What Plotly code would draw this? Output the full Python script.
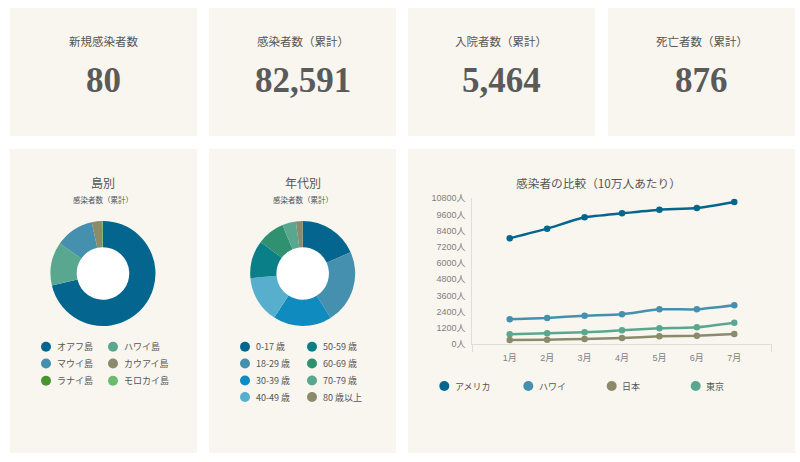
import plotly.graph_objects as go

W, H = 800, 462

stat_titles = ["新規感染者数", "感染者数（累計）", "入院者数（累計）", "死亡者数（累計）"]
stat_values = ["80", "82,591", "5,464", "876"]

island_names = ["オアフ島", "ハワイ島", "マウイ島", "カウアイ島", "ラナイ島", "モロカイ島"]
island_cases = [58900, 11000, 9830, 2560, 200, 100]
island_colors = ["#04668f", "#5aa78f", "#4490ae", "#8b8a6b", "#4b9432", "#6abb6e"]

age_names = ["0-17 歳", "18-29 歳", "30-39 歳", "40-49 歳", "50-59 歳", "60-69 歳", "70-79 歳", "80 歳以上"]
age_cases = [18.4, 22.8, 18.1, 14.5, 11.7, 8.5, 4.2, 2.1]
age_colors = ["#04668f", "#4490ae", "#0f8bbf", "#58aecd", "#0a7f88", "#2f9170", "#5aa78f", "#8b8a6b"]

months = ["1月", "2月", "3月", "4月", "5月", "6月", "7月"]
usa = [7830, 8550, 9390, 9690, 9960, 10080, 10530]
hawaii = [1830, 1930, 2100, 2200, 2570, 2570, 2870]
japan = [300, 320, 370, 445, 570, 620, 740]
tokyo = [720, 790, 865, 1010, 1160, 1240, 1580]
y_ticks = [0, 1200, 2400, 3600, 4800, 6000, 7200, 8400, 9600, 10800]

CARD = "#f9f6f0"
TEXT = "#555555"
AXIS = "#e0ddd4"
TICK_TEXT = "#808080"
JP = "'Noto Sans CJK JP', 'Noto Sans', sans-serif"
TICK_FONT = "'Liberation Sans', 'Noto Sans CJK JP', sans-serif"
NUM = "'Liberation Serif', serif"


def px(x):
    return x / W


def py(y):
    return 1 - y / H


fig = go.Figure()
shapes = []
notes = []


def card(x0, y0, x1, y1):
    shapes.append(dict(type="rect", xref="paper", yref="paper", x0=px(x0), x1=px(x1),
                       y0=py(y1), y1=py(y0), fillcolor=CARD, line_width=0, layer="below"))


def text(x, y, s, size, color=TEXT, anchor="center", family=JP):
    notes.append(dict(x=px(x), y=py(y), xref="paper", yref="paper", text=s, showarrow=False,
                      xanchor=anchor, yanchor="middle", font=dict(size=size, color=color, family=family)))


def legend_item(x, y, s, color):
    r = 5
    shapes.append(dict(type="circle", xref="paper", yref="paper", x0=px(x - r), x1=px(x + r),
                       y0=py(y + r), y1=py(y - r), fillcolor=color, line_width=0))
    text(x + 8.5, y, s, 9, anchor="left")


# top row
stat_x = [(10, 197), (209, 396), (408, 595), (608, 795)]
for (x0, x1), t, v in zip(stat_x, stat_titles, stat_values):
    card(x0, 8, x1, 136)
    text((x0 + x1) / 2, 41, t, 11.5)
    text((x0 + x1) / 2, 80.5, f"<b>{v}</b>", 35, color="#5a5a5a", family=NUM)

# bottom row cards
card(10, 149, 197, 453)
card(209, 149, 396, 453)
card(408, 149, 795, 453)


def donut(names, vals, colors, cx, cy):
    # the hole is white in the reference, not card colour
    shapes.append(dict(type="circle", xref="paper", yref="paper", x0=px(cx - 27), x1=px(cx + 27),
                       y0=py(cy + 27), y1=py(cy - 27), fillcolor="white", line_width=0, layer="below"))
    # template turns pie automargin on, that squeezes the whole page
    fig.add_trace(go.Pie(labels=names, values=vals, hole=0.5, sort=False, direction="clockwise",
                         marker=dict(colors=colors, line=dict(width=0)), textinfo="none",
                         hoverinfo="label+value", showlegend=False, automargin=False,
                         domain=dict(x=[px(cx - 52.5), px(cx + 52.5)], y=[py(cy + 52.5), py(cy - 52.5)])))


donut(island_names, island_cases, island_colors, 103, 273.5)
text(103, 183, "島別", 12)
text(103, 199, "感染者数（累計）", 7.5)
for i, (n, c) in enumerate(zip(island_names, island_colors)):
    legend_item(46 if i % 2 == 0 else 113, [346.7, 363.5, 380.7][i // 2], n, c)

donut(age_names, age_cases, age_colors, 302.7, 273.5)
text(302.7, 183, "年代別", 12)
text(302.7, 199, "感染者数（累計）", 7.5)
for i, (n, c) in enumerate(zip(age_names, age_colors)):
    legend_item(245 if i < 4 else 312, [346.7, 363.5, 380.5, 397][i % 4], n, c)

# line chart
lines = [("アメリカ", usa, "#04668f"), ("ハワイ", hawaii, "#4490ae"),
         ("日本", japan, "#8b8a6b"), ("東京", tokyo, "#5aa78f")]
for name, vals, color in [lines[0], lines[1], lines[3], lines[2]]:
    fig.add_trace(go.Scatter(x=list(range(1, 8)), y=vals, name=name, mode="lines+markers",
                             line=dict(color=color, width=2.5, shape="spline", smoothing=0.5),
                             marker=dict(color=color, size=6.5), showlegend=False))
text(598, 183, "感染者の比較（10万人あたり）", 11.7)
for x, (name, _, color) in zip([444.3, 528.3, 611.7, 695.7], lines):
    legend_item(x, 386, name, color)

fig.update_layout(
    width=W, height=H, margin=dict(l=0, r=0, t=0, b=0), autosize=False,
    paper_bgcolor="white", plot_bgcolor="rgba(0,0,0,0)",
    shapes=shapes, annotations=notes,
    xaxis=dict(domain=[px(472.3), px(771.7)], range=[0, 8], tickmode="array",
               tickvals=list(range(1, 8)), ticktext=months,
               ticks="", ticklabelstandoff=5,
               # only the two ends of the axis have a tick
               minor=dict(tickmode="array", tickvals=[0, 8], ticks="outside", ticklen=7, tickcolor=AXIS),
               linecolor=AXIS, showline=True, showgrid=False, zeroline=False, automargin=False,
               tickfont=dict(size=9, color=TICK_TEXT, family=TICK_FONT)),
    yaxis=dict(domain=[py(344), py(198.3)], range=[0, 10800], tickmode="array",
               tickvals=y_ticks, ticktext=[f"{v}人" for v in y_ticks],
               ticks="", ticklabelstandoff=4, linecolor=AXIS, showline=True, showgrid=False,
               zeroline=False, automargin=False,
               tickfont=dict(size=9, color=TICK_TEXT, family=TICK_FONT)),
)

fig.write_html("out.html", config={"displayModeBar": False}, post_script="document.body.style.margin='0';")
